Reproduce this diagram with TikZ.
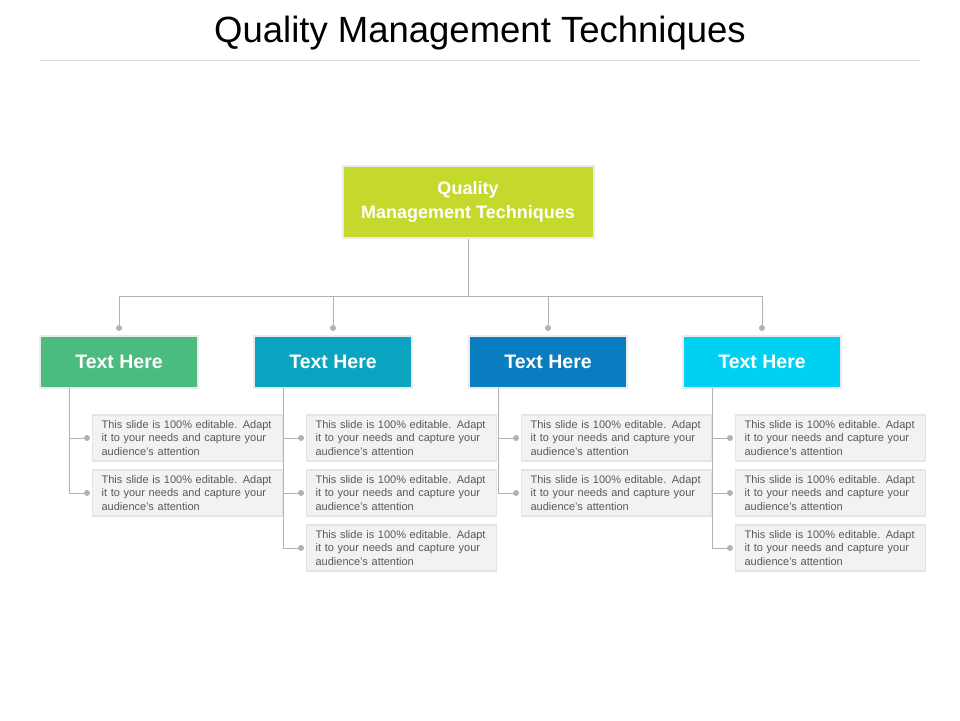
\documentclass[tikz,border=0pt]{standalone}
\usepackage{fontspec}
\setmainfont{Liberation Sans}
\begin{document}
\begin{tikzpicture}[x=1pt,y=-1pt,
  conn/.style={draw=black!30,line width=0.8pt},
  dotn/.style={circle,fill=black!30,inner sep=0pt,minimum size=6pt},
  head/.style={draw=black!8,line width=2pt,minimum width=158pt,minimum height=52pt,text=white,font=\bfseries\fontsize{19.5}{22}\selectfont},
  child/.style={draw=black!10,line width=1.2pt,fill=black!5,minimum width=190pt,minimum height=46pt,text width=172pt,align=left,text=black!65,font=\fontsize{11}{13.6}\selectfont,inner xsep=9pt}]
\useasboundingbox (0,0) rectangle (960,720);
\node (title) at (480,33) {\fontsize{36.5}{40}\selectfont Quality Management Techniques};
\draw[black!15,line width=0.6pt] (40,60) -- (920,60);
\node[draw=black!8,line width=2pt,fill={rgb,255:red,197;green,217;blue,45},minimum width=251pt,minimum height=72pt,text=white,align=center,font=\bfseries\fontsize{18}{24}\selectfont] (top) at (468,202) {Quality\\Management Techniques};
\coordinate (hub) at (468,296);
\draw[conn] (top.south) -- (hub);
\definecolor{c1}{RGB}{76,187,127}
\definecolor{c2}{RGB}{10,164,192}
\definecolor{c3}{RGB}{10,125,192}
\definecolor{c4}{RGB}{0,208,242}
\def\txt{This slide is 100\% editable.  Adapt it to your needs and capture your audience's attention}
\foreach \i/\cx/\n in {1/119/2,2/333/3,3/548/2,4/762/3}{
  \coordinate (t\i) at (\cx,296);
  \node[dotn] (d\i) at (\cx,328) {};
  \draw[conn] (hub) -- (t\i) -- (d\i);
  \node[head,fill=c\i] (h\i) at (\cx,362) {Text Here};
  \pgfmathsetmacro{\vx}{\cx-79+29}
  \foreach \k in {1,...,\n}{
    \pgfmathsetmacro{\cy}{438+55*(\k-1)}
    \node[child,anchor=west] (c\i\k) at (\vx+23,\cy) {\txt};
    \node[dotn] (e\i\k) at (\vx+18,\cy) {};
    \coordinate (v\i\k) at (\vx,\cy);
    \draw[conn] (v\i\k) -- (e\i\k);
  }
  \coordinate (vt\i) at (\vx,388);
  \draw[conn] (vt\i) -- (v\i\n);
}
\end{tikzpicture}
\end{document}
